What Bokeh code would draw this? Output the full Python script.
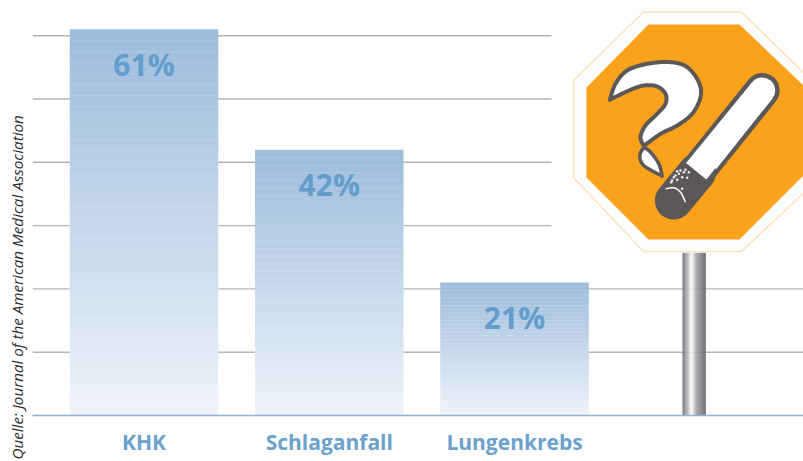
from bokeh.plotting import figure
from bokeh.models import Range1d, LinearAxis, FixedTicker, Title
from bokeh.core.properties import value
from bokeh.embed import file_html
from bokeh.resources import INLINE

# ---- chart data ----
categories = ["KHK", "Schlaganfall", "Lungenkrebs"]
values = [61, 42, 21]
y_ticks = [0, 10, 20, 30, 40, 50, 60]
source = "Quelle: Journal of the American Medical Association"

BLUE = "#6aa1cd"
FONT = "Open Sans"
TOP_RGB = (157, 188, 220)
BOT_RGB = (238, 243, 250)
BANDS = 35

def mix(a, b, t):
    return "#%02x%02x%02x" % tuple(round(a[i] + (b[i] - a[i]) * t) for i in range(3))

def catmull(pts, n=10):
    P = [pts[0]] + list(pts) + [pts[-1]]
    out = []
    for i in range(1, len(P) - 2):
        p0, p1, p2, p3 = P[i - 1], P[i], P[i + 1], P[i + 2]
        for k in range(n):
            t = k / n
            out.append(tuple(0.5 * (2 * p1[c] + (p2[c] - p0[c]) * t
                                    + (2 * p0[c] - 5 * p1[c] + 4 * p2[c] - p3[c]) * t ** 2
                                    + (3 * p1[c] - p0[c] - 3 * p2[c] + p3[c]) * t ** 3) for c in (0, 1)))
    out.append(pts[-1])
    return out

p = figure(frame_width=771, frame_height=415, output_backend="svg", toolbar_location=None,
           x_range=Range1d(-0.602, 3.56), y_range=Range1d(0, 65.56),
           x_axis_type=None, y_axis_type=None,
           min_border_left=32, min_border_right=0, min_border_top=0, min_border_bottom=46,
           outline_line_color=None, background_fill_color="white", border_fill_color="white")
# illustration layer: same frame, pixel-like coordinates
p.extra_x_ranges["px"] = Range1d(32, 803)
p.extra_y_ranges["px"] = Range1d(415, 0)
PX = dict(x_range_name="px", y_range_name="px")

# axes and grid
yaxis = LinearAxis(ticker=FixedTicker(ticks=y_ticks), visible=False)
p.add_layout(yaxis, "left")
p.segment(x0=[-0.602] * 6, x1=[3.56] * 6, y0=y_ticks[1:], y1=y_ticks[1:],
          line_color="#b4b4b4", line_width=1.4)

xaxis = LinearAxis(ticker=FixedTicker(ticks=[0, 1, 2]),
                   major_label_overrides={i: c for i, c in enumerate(categories)},
                   axis_line_color="#8db3d6", axis_line_width=1.5,
                   major_tick_line_color=None, minor_tick_line_color=None,
                   major_tick_in=0, major_tick_out=0,
                   major_label_text_color=BLUE, major_label_text_font=FONT,
                   major_label_text_font_style="bold", major_label_text_font_size="21px",
                   major_label_standoff=12)
p.add_layout(xaxis, "below")

# bars with a banded gradient
BAR_W = 148.5 / 185.25
xs = list(range(len(values)))
EPS = 0.08
for x, v in zip(xs, values):
    edges = [v * (1 - i / BANDS) for i in range(BANDS + 1)]
    p.quad(left=[x - BAR_W / 2] * BANDS, right=[x + BAR_W / 2] * BANDS, top=edges[:-1],
           bottom=[max(e - EPS, 0) for e in edges[1:]],
           fill_color=[mix(TOP_RGB, BOT_RGB, i / (BANDS - 1)) for i in range(BANDS)], line_color=None)
    p.segment(x0=[x - BAR_W / 2] * 20, x1=[x + BAR_W / 2] * 20,
              y0=edges[1:21], y1=edges[1:21], line_color="white", line_alpha=0.12, line_width=1)

p.text(x=xs, y=values, text=[f"{v}%" for v in values], text_align="center", text_baseline="middle",
       y_offset=35, text_color="#639dcc", text_font=value(FONT), text_font_style="bold", text_font_size="30px")

# source line
p.add_layout(Title(text=source, align="left", offset=-44, standoff=8, vertical_align="top", text_font=FONT,
                   text_font_style="italic", text_font_size="15.2px", text_color="#2e2e2e"), "left")

# ---- illustration: pole and sign ----
pole_colors = ["#707377", "#7f8286", "#909296", "#a0a2a5", "#aaacaf", "#b6b8ba", "#cfd0d2", "#e6e6e7",
               "#f4f4f4", "#f4f4f4", "#e6e6e8", "#d0d1d3", "#bbbcbf", "#aaabae", "#9e9fa3", "#96979b",
               "#909195", "#8b8c90", "#85868a", "#7e7f83", "#76777b", "#6e6f73", "#696a6e"]
p.quad(left=[682 + i for i in range(23)], right=[683.3 + i for i in range(23)],
       top=[252] * 23, bottom=[414.5] * 23, fill_color=pole_colors, line_color=None, **PX)

# white halo hiding the upper grid lines
p.quad(left=[551], right=[803], top=[0], bottom=[252], fill_color="white", line_color=None, **PX)

p.patch([643, 741, 806, 806, 741, 643, 573, 573], [11.5, 11.5, 75, 190, 251, 251, 177, 80],
        fill_color="#fdfdfb", line_color="#fde3c0", line_width=1.5, **PX)
p.patch([648, 739, 803, 803, 739, 648, 586, 586], [24, 24, 85, 175, 239, 239, 177, 87],
        fill_color="#faa21b", line_color=None, **PX)

# smoke shaped as a question mark (zoom coordinates: /3 + x offset)
def z(pts):
    return [(560 + a / 3, b / 3) for a, b in pts]

upper = catmull(z([(148, 298), (165, 250), (200, 210), (260, 190), (330, 185), (380, 200), (415, 245),
                   (420, 290), (395, 340), (350, 375), (300, 400), (265, 425), (250, 436)]))
lower = catmull(z([(250, 436), (240, 410), (255, 375), (290, 340), (315, 310), (315, 280), (290, 258),
                   (250, 255), (205, 270), (148, 298)]))
smoke = upper + lower[1:]
p.patch([a for a, b in smoke], [b for a, b in smoke], fill_color="white", line_color="#5d5858",
        line_width=4, line_join="round", **PX)
leaf = catmull(z([(250, 440), (238, 465), (250, 495), (305, 527)])) + catmull(z([(305, 527), (295, 490), (270, 455), (250, 440)]))[1:]
p.patch([a for a, b in leaf], [b for a, b in leaf], fill_color="white", line_color="#5d5858",
        line_width=3.5, line_join="round", **PX)

# cigarette
low, mid, high = (673.3, 200), (696.7, 171.7), (761.7, 90)
p.line([low[0], high[0]], [low[1], high[1]], line_color="#5d5858", line_width=35, line_cap="round", **PX)
p.line([mid[0], high[0]], [mid[1], high[1]], line_color="white", line_width=26, line_cap="round", **PX)
p.line([low[0], mid[0]], [low[1], mid[1]], line_color="#5d5858", line_width=38, line_cap="round", **PX)
p.line([mid[0] - 1, high[0]], [mid[1] - 1, high[1]], line_color="white", line_width=26, line_cap="butt", **PX)

def z9(pts):
    return [(630 + a / 3, 140 + b / 3) for a, b in pts]

ash = z9([(125, 120), (135, 105), (150, 90), (165, 88), (175, 95), (145, 100), (130, 110), (155, 110),
          (160, 95), (170, 112), (140, 118), (155, 145), (122, 125), (140, 92)])
p.scatter([a for a, b in ash], [b for a, b in ash], size=2.5, color="#f2eeee", line_color=None, **PX)
arc = catmull(z9([(105, 145), (130, 142), (150, 155), (165, 185)]))
p.line([a for a, b in arc], [b for a, b in arc], line_color="white", line_width=1.5, **PX)

open("out.html", "w").write(file_html(p, INLINE))
